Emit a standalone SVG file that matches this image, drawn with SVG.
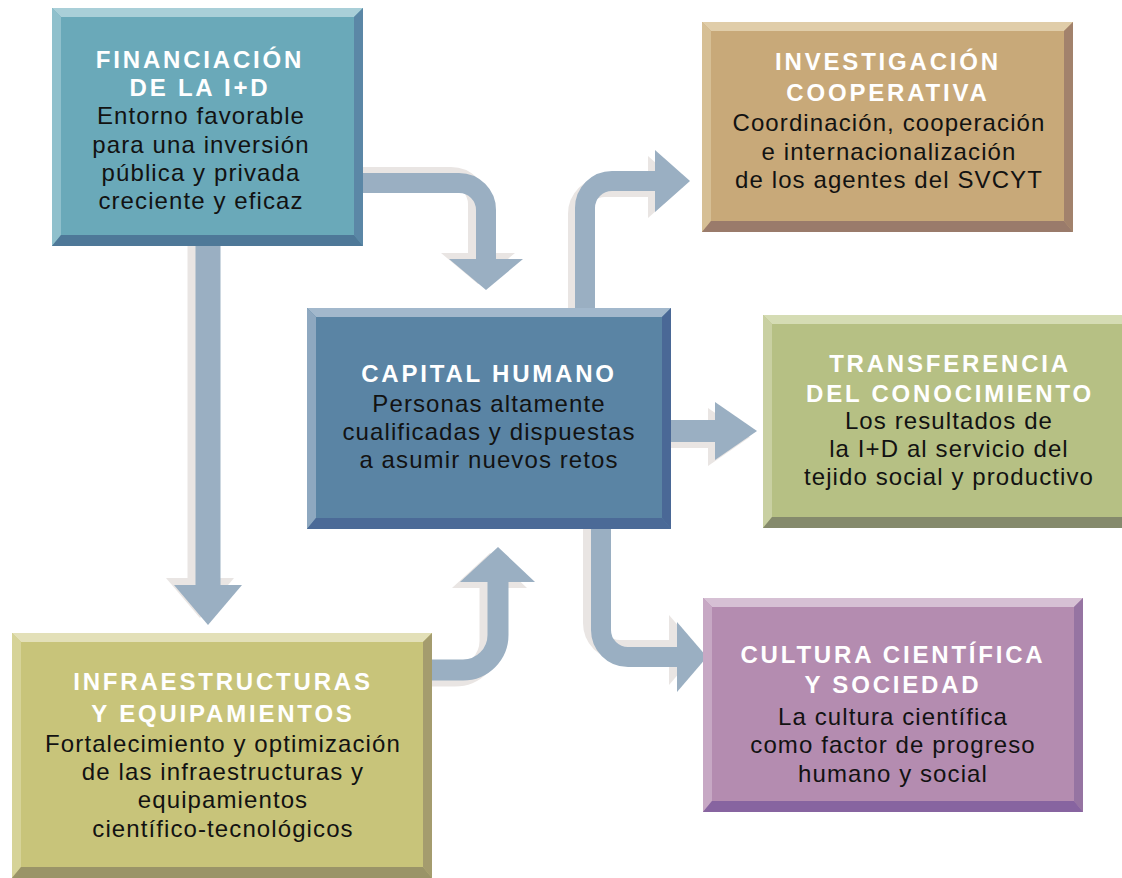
<svg xmlns="http://www.w3.org/2000/svg" width="1122" height="878" viewBox="0 0 1122 878">
<style>
.t{font-family:"Liberation Sans",Arial,sans-serif;font-weight:bold;font-size:24px;letter-spacing:2.8px;fill:#ffffff;text-anchor:middle}
.b{font-family:"Liberation Sans",Arial,sans-serif;font-size:24px;letter-spacing:1.1px;fill:#121212;text-anchor:middle}
.sh{fill:none;stroke:#e9e5e3}
.shh{fill:#e9e5e3}
.ar{fill:none;stroke:#9aafc2}
.ah{fill:#9aafc2}
</style>
<rect width="1122" height="878" fill="#ffffff"/>
<g id="connectors">
  <g transform="translate(-8,-6)">
    <path class="sh" stroke-width="20" d="M363,183 H459 A27,27 0 0 1 486,210 V260"/>
    <polygon class="shh" points="449,259 523,259 486,290"/>
  </g>
  <g transform="translate(-7,6)">
    <path class="sh" stroke-width="20" d="M585,308 V208 A27,27 0 0 1 612,181 H656"/>
    <polygon class="shh" points="655,150 655,212 690,181"/>
  </g>
  <g transform="translate(-7,6)">
    <path class="sh" stroke-width="22" d="M671,431 H716"/>
    <polygon class="shh" points="715,402 715,460 757,431"/>
  </g>
  <g transform="translate(-8,-7)">
    <path class="sh" stroke-width="20" d="M601,528 V630 A27,27 0 0 0 628,657 H678"/>
    <polygon class="shh" points="677,622 677,692 707,657"/>
  </g>
  <g transform="translate(-8,6)">
    <path class="sh" stroke-width="21" d="M432,670 H463 A35,35 0 0 0 498,635 V581"/>
    <polygon class="shh" points="460,582 535,582 498,547"/>
  </g>
  <g transform="translate(-8,-7)">
    <path class="sh" stroke-width="25" d="M208,246 V586"/>
    <polygon class="shh" points="174,585 242,585 208,625"/>
  </g>
  <g id="arrow-fin-cap">
    <path class="ar" stroke-width="20" d="M363,183 H459 A27,27 0 0 1 486,210 V260"/>
    <polygon class="ah" points="449,259 523,259 486,290"/>
  </g>
  <g id="arrow-cap-inv">
    <path class="ar" stroke-width="20" d="M585,308 V208 A27,27 0 0 1 612,181 H656"/>
    <polygon class="ah" points="655,150 655,212 690,181"/>
  </g>
  <g id="arrow-cap-tra">
    <path class="ar" stroke-width="22" d="M671,431 H716"/>
    <polygon class="ah" points="715,402 715,460 757,431"/>
  </g>
  <g id="arrow-cap-cul">
    <path class="ar" stroke-width="20" d="M601,528 V630 A27,27 0 0 0 628,657 H678"/>
    <polygon class="ah" points="677,622 677,692 707,657"/>
  </g>
  <g id="arrow-inf-cap">
    <path class="ar" stroke-width="21" d="M432,670 H463 A35,35 0 0 0 498,635 V581"/>
    <polygon class="ah" points="460,582 535,582 498,547"/>
  </g>
  <g id="arrow-fin-inf">
    <path class="ar" stroke-width="25" d="M208,246 V586"/>
    <polygon class="ah" points="174,585 242,585 208,625"/>
  </g>
</g>

<g id="financiacion">
  <rect x="52" y="8" width="311" height="238" fill="#6aa9b9"/>
  <polygon points="52,8 363,8 354,17 61,17" fill="#a9cfd8"/>
  <polygon points="52,8 61,17 61,235 52,246" fill="#8fc0cc"/>
  <polygon points="363,8 363,246 354,235 354,17" fill="#5b87a6"/>
  <polygon points="52,246 363,246 354,235 61,235" fill="#4e7898"/>
  <text class="t" x="200" y="68">FINANCIACIÓN</text>
  <text class="t" x="200" y="96">DE LA I+D</text>
  <text class="b" x="201" y="124">Entorno favorable</text>
  <text class="b" x="201" y="153">para una inversión</text>
  <text class="b" x="201" y="181">pública y privada</text>
  <text class="b" x="201" y="209">creciente y eficaz</text>
</g>

<g id="investigacion">
  <rect x="702" y="22" width="371" height="210" fill="#c8a979"/>
  <polygon points="702,22 1073,22 1064,31 711,31" fill="#e0cda9"/>
  <polygon points="702,22 711,31 711,221 702,232" fill="#d6bf95"/>
  <polygon points="1073,22 1073,232 1064,221 1064,31" fill="#a2826c"/>
  <polygon points="702,232 1073,232 1064,221 711,221" fill="#9a7b6b"/>
  <text class="t" x="888" y="70">INVESTIGACIÓN</text>
  <text class="t" x="888" y="101">COOPERATIVA</text>
  <text class="b" x="889" y="131">Coordinación, cooperación</text>
  <text class="b" x="889" y="160">e internacionalización</text>
  <text class="b" x="889" y="188">de los agentes del SVCYT</text>
</g>

<g id="capital">
  <rect x="307" y="308" width="364" height="221" fill="#5a84a4"/>
  <polygon points="307,308 671,308 662,317 316,317" fill="#a2b8cc"/>
  <polygon points="307,308 316,317 316,518 307,529" fill="#8ea8c0"/>
  <polygon points="671,308 671,529 662,518 662,317" fill="#4a6896"/>
  <polygon points="307,529 671,529 662,518 316,518" fill="#4b6a97"/>
  <text class="t" x="489" y="382">CAPITAL HUMANO</text>
  <text class="b" x="489" y="412">Personas altamente</text>
  <text class="b" x="489" y="440">cualificadas y dispuestas</text>
  <text class="b" x="489" y="468">a asumir nuevos retos</text>
</g>

<g id="transferencia">
  <rect x="763" y="315" width="370" height="213" fill="#b6c084"/>
  <polygon points="763,315 1133,315 1124,324 772,324" fill="#d5dcb4"/>
  <polygon points="763,315 772,324 772,517 763,528" fill="#c9d0a2"/>
  <polygon points="763,528 1133,528 1124,517 772,517" fill="#858a6c"/>
  <text class="t" x="950" y="372">TRANSFERENCIA</text>
  <text class="t" x="950" y="402">DEL CONOCIMIENTO</text>
  <text class="b" x="949" y="429">Los resultados de</text>
  <text class="b" x="949" y="457">la I+D al servicio del</text>
  <text class="b" x="949" y="485">tejido social y productivo</text>
</g>

<g id="cultura">
  <rect x="703" y="598" width="380" height="214" fill="#b48cb0"/>
  <polygon points="703,598 1083,598 1074,607 712,607" fill="#d6c0d4"/>
  <polygon points="703,598 712,607 712,801 703,812" fill="#c7a8c4"/>
  <polygon points="1083,598 1083,812 1074,801 1074,607" fill="#9674a2"/>
  <polygon points="703,812 1083,812 1074,801 712,801" fill="#8764a0"/>
  <text class="t" x="893" y="663">CULTURA CIENTÍFICA</text>
  <text class="t" x="893" y="693">Y SOCIEDAD</text>
  <text class="b" x="893" y="725">La cultura científica</text>
  <text class="b" x="893" y="753">como factor de progreso</text>
  <text class="b" x="893" y="782">humano y social</text>
</g>

<g id="infraestructuras">
  <rect x="12" y="633" width="420" height="245" fill="#c8c47a"/>
  <polygon points="12,633 432,633 423,642 21,642" fill="#e3e0b8"/>
  <polygon points="12,633 21,642 21,867 12,878" fill="#d6d398"/>
  <polygon points="432,633 432,878 423,867 423,642" fill="#a49c6e"/>
  <polygon points="12,878 432,878 423,867 21,867" fill="#9a9468"/>
  <text class="t" x="223" y="690">INFRAESTRUCTURAS</text>
  <text class="t" x="223" y="722">Y EQUIPAMIENTOS</text>
  <text class="b" x="223" y="752">Fortalecimiento y optimización</text>
  <text class="b" x="223" y="780">de las infraestructuras y</text>
  <text class="b" x="223" y="808">equipamientos</text>
  <text class="b" x="223" y="837">científico-tecnológicos</text>
</g>
</svg>
